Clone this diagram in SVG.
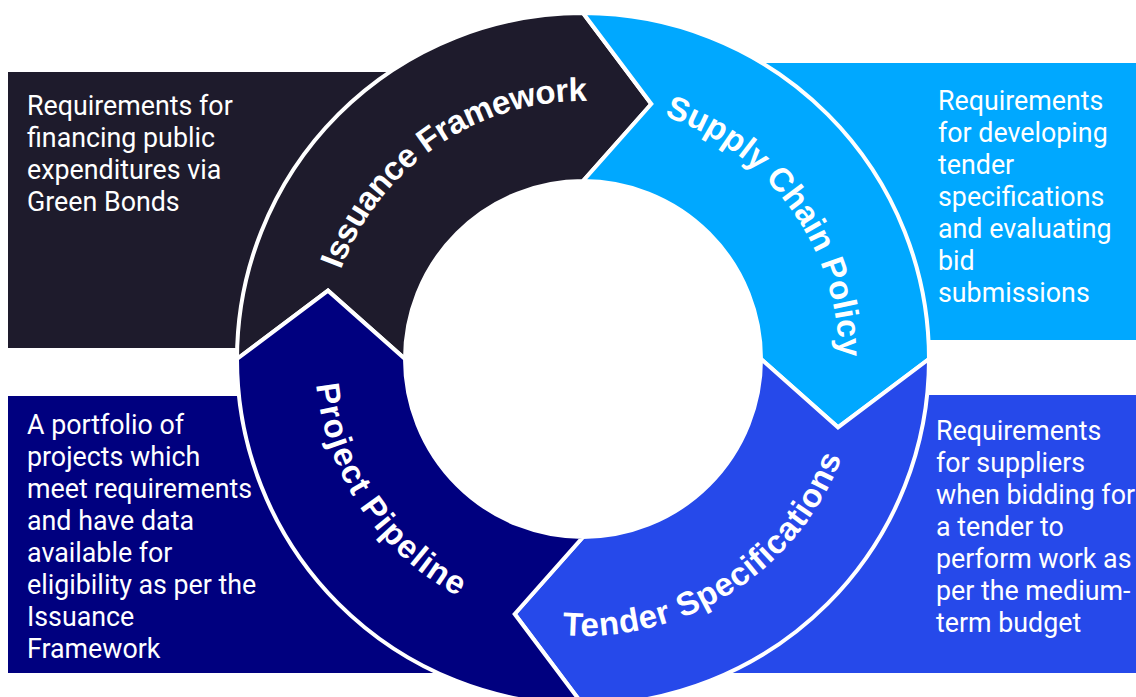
<svg xmlns="http://www.w3.org/2000/svg" width="1136" height="697" viewBox="0 0 1136 697">
  <defs>
    <style>
      .seg { stroke: #ffffff; stroke-width: 4; stroke-linejoin: miter; }
      .label { font-family: "Liberation Sans", Arial, sans-serif; font-weight: bold; font-size: 33px; fill: #ffffff; }
      .desc { font-family: Roboto, "Liberation Sans", sans-serif; font-size: 26.8px; fill: #ffffff; }
      .dark { fill: #1e1b2c; }
      .navy { fill: #00007f; }
      .sky { fill: #00a8ff; }
      .blue { fill: #2649ea; }
    </style>
    <!-- baselines for the curved ring labels (centre 583,359) -->
    <path id="arc-issuance" d="M333.2,423.6 A258,258 0 0,1 732.8,149"/>
    <path id="arc-supply" d="M512.4,112.9 A256,256 0 0,1 795.2,502.2"/>
    <path id="arc-tender" d="M414.4,578.8 A277,277 0 0,0 853.4,299.1"/>
    <path id="arc-pipeline" d="M366.2,201.5 A268,268 0 0,0 647.8,619"/>
  </defs>

  <rect width="1136" height="697" fill="#ffffff"/>

  <!-- description panels behind the ring -->
  <g id="panel-issuance">
    <rect class="dark" x="8" y="72" width="575" height="276"/>
    <text class="desc">
      <tspan x="27" y="115">Requirements for</tspan>
      <tspan x="27" y="147">financing public</tspan>
      <tspan x="27" y="179">expenditures via</tspan>
      <tspan x="27" y="211">Green Bonds</tspan>
    </text>
  </g>
  <g id="panel-pipeline">
    <rect class="navy" x="8" y="396" width="575" height="277"/>
    <text class="desc">
      <tspan x="27" y="434">A portfolio of</tspan>
      <tspan x="27" y="466">projects which</tspan>
      <tspan x="27" y="498">meet requirements</tspan>
      <tspan x="27" y="530">and have data</tspan>
      <tspan x="27" y="562">available for</tspan>
      <tspan x="27" y="594">eligibility as per the</tspan>
      <tspan x="27" y="626">Issuance</tspan>
      <tspan x="27" y="658">Framework</tspan>
    </text>
  </g>
  <g id="panel-supply">
    <rect class="sky" x="583" y="63" width="553" height="277"/>
    <text class="desc">
      <tspan x="938" y="110">Requirements</tspan>
      <tspan x="938" y="142">for developing</tspan>
      <tspan x="938" y="174">tender</tspan>
      <tspan x="938" y="206">specifications</tspan>
      <tspan x="938" y="238">and evaluating</tspan>
      <tspan x="938" y="270">bid</tspan>
      <tspan x="938" y="302">submissions</tspan>
    </text>
  </g>
  <g id="panel-tender">
    <rect class="blue" x="583" y="395" width="553" height="278"/>
    <text class="desc">
      <tspan x="936" y="440">Requirements</tspan>
      <tspan x="936" y="472">for suppliers</tspan>
      <tspan x="936" y="504">when bidding for</tspan>
      <tspan x="936" y="536">a tender to</tspan>
      <tspan x="936" y="568">perform work as</tspan>
      <tspan x="936" y="600">per the medium-</tspan>
      <tspan x="936" y="632">term budget</tspan>
    </text>
  </g>

  <!-- white hub of the ring -->
  <circle cx="583" cy="359" r="178" fill="#ffffff"/>

  <!-- ring of four arrow segments, clockwise -->
  <g id="seg-issuance">
    <path class="seg dark" d="M237,359 A346,346 0 0,1 583,13 L651.3,104 L583,181 A178,178 0 0,0 405,359 L328,290.7 Z"/>
    <text class="label" letter-spacing="-0.5"><textPath href="#arc-issuance" startOffset="50%" text-anchor="middle">Issuance Framework</textPath></text>
  </g>
  <g id="seg-supply">
    <path class="seg sky" d="M583,13 A346,346 0 0,1 929,359 L838,427.3 L761,359 A178,178 0 0,0 583,181 L651.3,104 Z"/>
    <text class="label"><textPath href="#arc-supply" startOffset="50%" text-anchor="middle">Supply Chain Policy</textPath></text>
  </g>
  <g id="seg-tender">
    <path class="seg blue" d="M929,359 A346,346 0 0,1 583,705 L514.7,614 L583,537 A178,178 0 0,0 761,359 L838,427.3 Z"/>
    <text class="label" letter-spacing="0.7"><textPath href="#arc-tender" startOffset="50%" text-anchor="middle">Tender Specifications</textPath></text>
  </g>
  <g id="seg-pipeline">
    <path class="seg navy" d="M583,705 A346,346 0 0,1 237,359 L328,290.7 L405,359 A178,178 0 0,0 583,537 L514.7,614 Z"/>
    <text class="label" letter-spacing="1.2"><textPath href="#arc-pipeline" startOffset="50%" text-anchor="middle">Project Pipeline</textPath></text>
  </g>

  <!-- no separate connectors: the arrow tips of the ring segments carry the flow -->
  <g id="connectors"/>
</svg>
